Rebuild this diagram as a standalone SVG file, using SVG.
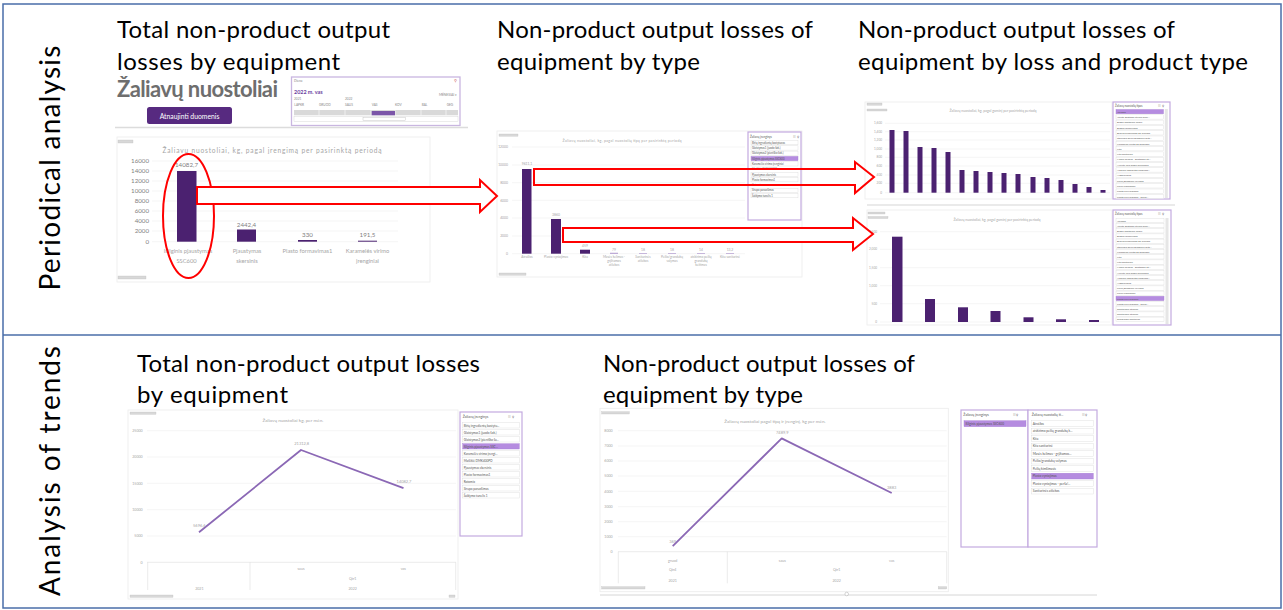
<svg xmlns="http://www.w3.org/2000/svg" width="1283" height="610" viewBox="0 0 1283 610">
<style>
.frame{fill:none;stroke:#4a6ea9;stroke-width:1.5}
.h{font-family:Lato,"Liberation Sans",sans-serif;font-size:24px;fill:#000}
.vl{font-family:Lato,"Liberation Sans",sans-serif;font-size:28px;fill:#000}
.f{font-family:Lato,"Liberation Sans",sans-serif}
.box{fill:#fff;stroke:#ececec;stroke-width:0.8}
.tag{fill:#d8d8d8;stroke:#bdbdbd;stroke-width:0.3}
.ct{font-family:Lato,"Liberation Sans",sans-serif;fill:#a6a6a6;text-anchor:middle}
.ya{font-family:Lato,"Liberation Sans",sans-serif;fill:#a6a6a6;text-anchor:end}
.xa{font-family:Lato,"Liberation Sans",sans-serif;fill:#a6a6a6;text-anchor:middle}
.grid{stroke:#eeeeee;stroke-width:0.6}
.axl{stroke:#dddddd;stroke-width:0.6;fill:none}
.bar{fill:#4b2170}
.sl{fill:#fff;stroke:#c3aadf;stroke-width:1.2}
.it{fill:#fff;stroke:#d9d9d9;stroke-width:0.4}
.sel{fill:#b58ce0;stroke:#a77fd4;stroke-width:0.4}
.itx{font-family:Lato,"Liberation Sans",sans-serif;fill:#555}
.ln{fill:none;stroke:#8b68b5;stroke-width:1.8;stroke-linejoin:round}
.arr{fill:#fff;stroke:#ff0000;stroke-width:2;stroke-linejoin:miter}
.arro{fill:none;stroke:#ff0000;stroke-width:2;stroke-linejoin:miter}
</style>

<g id="frame">
<rect class="frame" x="3" y="4" width="1278" height="604"/>
<line class="frame" x1="3" y1="335" x2="1281" y2="335"/>
</g>

<g id="label-periodical"><text class="vl" transform="translate(60,168) rotate(-90)" text-anchor="middle" textLength="245">Periodical analysis</text></g>
<g id="label-trends"><text class="vl" transform="translate(60,471) rotate(-90)" text-anchor="middle" textLength="250">Analysis of trends</text></g>

<g id="title-1"><text class="h" x="117" y="38" textLength="273">Total non-product output</text><text class="h" x="117" y="70" textLength="223">losses by equipment</text></g>
<g id="title-2"><text class="h" x="497" y="38" textLength="316">Non-product output losses of</text><text class="h" x="497" y="70" textLength="203">equipment by type</text></g>
<g id="title-3"><text class="h" x="858" y="38" textLength="317">Non-product output losses of</text><text class="h" x="858" y="70" textLength="390">equipment by loss and product type</text></g>
<g id="title-4"><text class="h" x="137" y="372" textLength="343">Total non-product output losses</text><text class="h" x="137" y="403" textLength="151">by equipment</text></g>
<g id="title-5"><text class="h" x="603" y="372" textLength="312">Non-product output losses of</text><text class="h" x="603" y="403" textLength="200">equipment by type</text></g>

<!-- Screenshot 1: dashboard -->
<g id="screen-1">
<text class="f" x="117" y="97" font-size="22" font-weight="bold" fill="#6e6e6e" textLength="161">Žaliavų nuostoliai</text>
<rect x="147" y="107" width="85" height="17" rx="2.5" fill="#572a80"/>
<text class="f" x="189.5" y="118.5" font-size="6.8" fill="#fff" text-anchor="middle">Atnaujinti duomenis</text>
<rect x="291.5" y="77" width="168.5" height="48.5" fill="#fff" stroke="#c9b6e0" stroke-width="1.3"/>
<text class="f" x="294" y="82" font-size="3.3" fill="#888">Diena</text>
<text class="f" x="457" y="82" font-size="3.5" fill="#c55" text-anchor="end">⚲</text>
<text class="f" x="294" y="93.5" font-size="5.4" font-weight="bold" fill="#6b3fa0">2022 m. vas</text>
<text class="f" x="457" y="95.5" font-size="3.3" fill="#888" text-anchor="end">MĖNESIAI ▾</text>
<text class="f" x="294" y="99.5" font-size="3.2" fill="#888">2021</text>
<text class="f" x="345" y="99.5" font-size="3.2" fill="#888">2022</text>
<g class="f" font-size="3.2" fill="#888">
<text x="294.3" y="105.5">LAPKR</text><text x="319" y="105.5">GRUOD</text><text x="345" y="105.5">SAUS</text><text x="371.7" y="105.5">VAS</text><text x="395" y="105.5">KOV</text><text x="421.7" y="105.5">BAL</text><text x="446.7" y="105.5">GEG</text>
</g>
<rect x="294" y="110" width="164" height="5.3" fill="#d9d9d9"/>
<g stroke="#fff" stroke-width="0.6"><line x1="319" y1="110" x2="319" y2="115.3"/><line x1="345" y1="110" x2="345" y2="115.3"/><line x1="371" y1="110" x2="371" y2="115.3"/><line x1="395" y1="110" x2="395" y2="115.3"/><line x1="421" y1="110" x2="421" y2="115.3"/><line x1="446" y1="110" x2="446" y2="115.3"/></g>
<rect x="371.7" y="111" width="23.3" height="4.3" fill="#7b55a8"/>
<rect x="294" y="116.7" width="164" height="4.6" fill="#fff" stroke="#d0d0d0" stroke-width="0.4"/>
<rect x="363" y="117.2" width="42.7" height="3.6" fill="#fff" stroke="#bbb" stroke-width="0.4"/>
<line x1="115" y1="127.5" x2="468" y2="127.5" stroke="#dcdcdc" stroke-width="1.5"/>
<rect class="box" x="117" y="137" width="313" height="145"/>
<rect class="tag" x="118" y="140" width="15" height="3"/>
<rect class="tag" x="118" y="276" width="28" height="3"/>
<text class="ct" x="272" y="153" font-size="6.6" textLength="219">Žaliavų nuostoliai, kg, pagal įrengimą per pasirinktą periodą</text>
<g class="grid"><line x1="152" y1="161" x2="398" y2="161"/><line x1="152" y1="171" x2="398" y2="171"/><line x1="152" y1="181" x2="398" y2="181"/><line x1="152" y1="191" x2="398" y2="191"/><line x1="152" y1="201" x2="398" y2="201"/><line x1="152" y1="211" x2="398" y2="211"/><line x1="152" y1="221" x2="398" y2="221"/><line x1="152" y1="231" x2="398" y2="231"/><line x1="152" y1="241.7" x2="398" y2="241.7"/></g>
<g class="ya" font-size="6.2" style="fill:#7f7f7f">
<text x="149" y="163">16000</text><text x="149" y="173">14000</text><text x="149" y="183">12000</text><text x="149" y="193">10000</text><text x="149" y="203">8000</text><text x="149" y="213">6000</text><text x="149" y="223">4000</text><text x="149" y="233">2000</text><text x="149" y="244">0</text>
</g>
<rect class="bar" x="177" y="171" width="19.5" height="70.7"/>
<rect class="bar" x="237" y="229.5" width="19" height="12.2"/>
<rect class="bar" x="298" y="240" width="19" height="1.7"/>
<rect class="bar" x="358" y="240.7" width="19" height="1"/>
<g class="xa" font-size="6.2" style="fill:#7f7f7f">
<text x="186.5" y="167">14082,7</text><text x="246.5" y="226.5">2442,4</text><text x="307.5" y="237">330</text><text x="367.5" y="237">191,5</text>
</g>
<g class="xa" font-size="5.8">
<text x="188" y="253">Išilginis pjaustymas</text><text x="186.5" y="263">SSC600</text>
<text x="247" y="253">Pjaustymas</text><text x="247" y="263">skersinis</text>
<text x="307.5" y="253">Plasto formavimas1</text>
<text x="367.5" y="253">Karamelės virimo</text><text x="367.5" y="263">įrenginiai</text>
</g>
</g>

<!-- Screenshot 2 -->
<g id="screen-2">
<rect class="box" x="497" y="131" width="305" height="146"/>
<rect class="tag" x="499" y="134" width="19" height="2.2"/>
<rect class="tag" x="499" y="273" width="27" height="2.2"/>
<text class="ct" x="622" y="142" font-size="3.6" textLength="119">Žaliavų nuostoliai, kg, pagal nuostolių tipą per pasirinktą periodą</text>
<g class="grid"><line x1="512" y1="147" x2="745" y2="147"/><line x1="512" y1="165" x2="745" y2="165"/><line x1="512" y1="182.7" x2="745" y2="182.7"/><line x1="512" y1="200.3" x2="745" y2="200.3"/><line x1="512" y1="218" x2="745" y2="218"/><line x1="512" y1="236" x2="745" y2="236"/><line x1="512" y1="253.7" x2="745" y2="253.7"/></g>
<g class="ya" font-size="3.4"><text x="508" y="148.3">12000</text><text x="508" y="166.2">10000</text><text x="508" y="184">8000</text><text x="508" y="201.6">6000</text><text x="508" y="219.3">4000</text><text x="508" y="237.3">2000</text><text x="508" y="255">0</text></g>
<rect class="bar" x="522" y="169" width="9.5" height="84.7"/>
<rect class="bar" x="551" y="219" width="10" height="34.7"/>
<rect class="bar" x="580" y="249.7" width="10" height="4"/>
<g fill="#a58ac8"><rect x="610" y="252.8" width="8" height="0.9"/><rect x="639" y="253.1" width="8" height="0.6"/><rect x="668" y="253.1" width="8" height="0.6"/><rect x="697" y="253.1" width="8" height="0.6"/><rect x="726" y="253.1" width="8" height="0.6"/></g>
<g class="xa" font-size="3.4"><text x="527" y="165">9611,1</text><text x="556" y="216">3860</text><text x="585" y="247">459</text><text x="614" y="251">79</text><text x="643" y="251">18</text><text x="672" y="251">18</text><text x="701" y="251">14</text><text x="730" y="251">13,2</text></g>
<g class="xa" font-size="3.2">
<text x="527" y="258">Atraižos</text>
<text x="556" y="258">Plasto vyniojimas</text>
<text x="585" y="258">Kita</text>
<text x="614" y="258">Masės kelimas -</text><text x="614" y="262">grįžtamos</text><text x="614" y="266">atliekos</text>
<text x="643" y="258">Sanitarinės</text><text x="643" y="262">atliekos</text>
<text x="672" y="258">Peilio/grandukų</text><text x="672" y="262">valymas</text>
<text x="701" y="258">atskirimo peilių</text><text x="701" y="262">grandukų</text><text x="701" y="266">keitimas</text>
<text x="730" y="258">Kita sanitarinė</text>
</g>
<rect class="sl" x="748" y="132" width="53" height="88"/>
<text class="itx" x="750" y="137.5" font-size="3">Žaliavų įrenginys</text>
<text class="itx" x="793" y="137.5" font-size="3">☷ ⚲</text>
<g>
<rect class="it" x="751" y="140.5" width="47" height="4.3"/><text class="itx" x="752" y="143.7" font-size="2.7">Birių ingredientų bastytuvas</text>
<rect class="it" x="751" y="145.8" width="47" height="4.3"/><text class="itx" x="752" y="149" font-size="2.7">Glaistymas1 (juodo šok.)</text>
<rect class="it" x="751" y="151.1" width="47" height="4.3"/><text class="itx" x="752" y="154.3" font-size="2.7">Glaistymas2 (pieniško šok.)</text>
<rect class="sel" x="751" y="156.4" width="47" height="4.3"/><text class="itx" x="752" y="159.6" font-size="2.7">Išilginis pjaustymas SSC600</text>
<rect class="it" x="751" y="161.7" width="47" height="4.3"/><text class="itx" x="752" y="164.9" font-size="2.7">Karamelės virimo įrenginiai</text>
<text class="itx" x="752" y="170.2" font-size="2.7" style="fill:#999">Maišiklė DMK400PO</text>
<rect class="it" x="751" y="172.3" width="47" height="4.3"/><text class="itx" x="752" y="175.5" font-size="2.7">Pjaustymas skersinis</text>
<rect class="it" x="751" y="177.6" width="47" height="4.3"/><text class="itx" x="752" y="180.8" font-size="2.7">Plasto formavimas1</text>
<text class="itx" x="752" y="186.1" font-size="2.7" style="fill:#999">Rotomix</text>
<rect class="it" x="751" y="188.2" width="47" height="4.3"/><text class="itx" x="752" y="191.4" font-size="2.7">Sirupo paruošimas</text>
<rect class="it" x="751" y="193.5" width="47" height="4.3"/><text class="itx" x="752" y="196.7" font-size="2.7">Šaldymo tunelis 1</text>
</g>
</g>

<!-- Screenshot 3a -->
<g id="screen-3a">
<rect class="box" x="865" y="102" width="247" height="97"/>
<rect class="tag" x="867" y="103" width="15" height="2.2"/>
<rect class="tag" x="867" y="109" width="20" height="2"/>
<text class="ct" x="993" y="112" font-size="3.5">Žaliavų nuostoliai, kg, pagal gaminį per pasirinktą periodą</text>
<g class="grid"><line x1="885" y1="123.3" x2="1110" y2="123.3"/><line x1="885" y1="131.7" x2="1110" y2="131.7"/><line x1="885" y1="140" x2="1110" y2="140"/><line x1="885" y1="149" x2="1110" y2="149"/><line x1="885" y1="157.3" x2="1110" y2="157.3"/><line x1="885" y1="166" x2="1110" y2="166"/><line x1="885" y1="175" x2="1110" y2="175"/><line x1="885" y1="183.3" x2="1110" y2="183.3"/><line x1="885" y1="192.7" x2="1110" y2="192.7"/></g>
<g class="ya" font-size="3.1"><text x="882" y="124.4">1,600</text><text x="882" y="132.8">1,400</text><text x="882" y="141.1">1,200</text><text x="882" y="150.1">1,000</text><text x="882" y="158.4">800</text><text x="882" y="167.1">600</text><text x="882" y="176.1">400</text><text x="882" y="184.4">200</text><text x="882" y="193.8">0</text></g>
<g class="bar">
<rect x="889.5" y="130" width="5" height="62.7"/><rect x="903.5" y="131" width="5" height="61.7"/><rect x="917.5" y="147" width="5" height="45.7"/><rect x="931.5" y="148" width="5" height="44.7"/><rect x="945.5" y="152" width="5" height="40.7"/><rect x="959.5" y="170" width="5" height="22.7"/><rect x="973.5" y="171" width="5" height="21.7"/><rect x="987.5" y="172" width="5" height="20.7"/><rect x="1001.5" y="173" width="5" height="19.7"/><rect x="1015.5" y="174" width="5" height="18.7"/><rect x="1030.5" y="177" width="5" height="15.7"/><rect x="1044.5" y="178" width="5" height="14.7"/><rect x="1058.5" y="180" width="5" height="12.7"/><rect x="1072.5" y="184" width="5" height="8.7"/><rect x="1086.5" y="187" width="5" height="5.7"/><rect x="1100.5" y="190" width="5" height="2.7"/>
</g>
<rect class="sl" x="1113" y="102" width="57" height="97"/>
<text class="itx" x="1115" y="106.8" font-size="2.8">Žaliavų nuostolių tipas</text>
<text class="itx" x="1158" y="106.8" font-size="2.8">☷ ⚲</text>
<rect x="1164.8" y="109" width="3" height="89" fill="#e6e6e6"/>
<g>
<rect class="sel" x="1116" y="109.5" width="47.5" height="4.3"/><text class="itx" x="1117" y="112.7" font-size="2.5">Atraižos</text>
<rect class="it" x="1116" y="114.8" width="47.5" height="4.3"/><text class="itx" x="1117" y="118" font-size="2.5">Atliktų grįžtamų atliekų prak...</text>
<rect class="it" x="1116" y="120.1" width="47.5" height="4.3"/><text class="itx" x="1117" y="123.3" font-size="2.5">Blogai sanitarinė forma</text>
<rect class="it" x="1116" y="125.4" width="47.5" height="4.3"/><text class="itx" x="1117" y="128.6" font-size="2.5">Blogas formavimas</text>
<rect class="it" x="1116" y="130.7" width="47.5" height="4.3"/><text class="itx" x="1117" y="133.9" font-size="2.5">Brokas nuosklanda po svėrimo</text>
<rect class="it" x="1116" y="136" width="47.5" height="4.3"/><text class="itx" x="1117" y="139.2" font-size="2.5">atskirimo peilių grandukų keiti...</text>
<rect class="it" x="1116" y="141.3" width="47.5" height="4.3"/><text class="itx" x="1117" y="144.5" font-size="2.5">Karamelės likutis po gamybos</text>
<rect class="it" x="1116" y="146.6" width="47.5" height="4.3"/><text class="itx" x="1117" y="149.8" font-size="2.5">Kita</text>
<rect class="it" x="1116" y="151.9" width="47.5" height="4.3"/><text class="itx" x="1117" y="155.1" font-size="2.5">Kita sanitarinė</text>
<rect class="it" x="1116" y="157.2" width="47.5" height="4.3"/><text class="itx" x="1117" y="160.4" font-size="2.5">Masės kelimas - grįžtamos atl...</text>
<rect class="it" x="1116" y="162.5" width="47.5" height="4.3"/><text class="itx" x="1117" y="165.7" font-size="2.5">Nuvirtę nuo bėgių nuolaužos</text>
<rect class="it" x="1116" y="167.8" width="47.5" height="4.3"/><text class="itx" x="1117" y="171" font-size="2.5">Nepilnai užpildytas korpusas...</text>
<rect class="it" x="1116" y="173.1" width="47.5" height="4.3"/><text class="itx" x="1117" y="176.3" font-size="2.5">Nugaravimas</text>
<rect class="it" x="1116" y="178.4" width="47.5" height="4.3"/><text class="itx" x="1117" y="181.6" font-size="2.5">Peilių/grandukų valymas</text>
<rect class="it" x="1116" y="183.7" width="47.5" height="4.3"/><text class="itx" x="1117" y="186.9" font-size="2.5">Peilių kimšimasis</text>
<rect class="it" x="1116" y="189" width="47.5" height="4.3"/><text class="itx" x="1117" y="192.2" font-size="2.5">Plasto suvyniojimas</text>
<rect class="it" x="1116" y="194.3" width="47.5" height="4.3"/><text class="itx" x="1117" y="197.5" font-size="2.5">Plasto suvyniojimas - perša...</text>
</g>
</g>

<!-- Screenshot 3b -->
<g id="screen-3b">
<line x1="867" y1="205" x2="1175" y2="205" stroke="#e3e3e3" stroke-width="1.5"/>
<rect class="box" x="867" y="210" width="245" height="115"/>
<rect class="tag" x="868" y="212" width="17" height="2"/>
<rect class="tag" x="868" y="216.5" width="20" height="2"/>
<text class="ct" x="997" y="220.5" font-size="3.5">Žaliavų nuostoliai, kg, pagal gaminį per pasirinktą periodą</text>
<g class="grid"><line x1="880" y1="231.7" x2="1110" y2="231.7"/><line x1="880" y1="249.3" x2="1110" y2="249.3"/><line x1="880" y1="267.7" x2="1110" y2="267.7"/><line x1="880" y1="285.7" x2="1110" y2="285.7"/><line x1="880" y1="303.7" x2="1110" y2="303.7"/><line x1="880" y1="322" x2="1110" y2="322"/></g>
<g class="ya" font-size="3.1"><text x="877" y="232.8">2,500</text><text x="877" y="250.4">2,000</text><text x="877" y="268.8">1,500</text><text x="877" y="286.8">1,000</text><text x="877" y="304.8">500</text><text x="877" y="323.1">0</text></g>
<g class="bar"><rect x="892" y="236.7" width="10.5" height="85.3"/><rect x="925" y="299" width="10" height="23"/><rect x="958" y="307.3" width="10" height="14.7"/><rect x="990.5" y="311" width="10" height="11"/><rect x="1023.5" y="317.3" width="10" height="4.7"/><rect x="1056" y="319.3" width="10" height="2.7"/><rect x="1089" y="320" width="10" height="2"/></g>
<rect class="sl" x="1113" y="210" width="58" height="115"/>
<text class="itx" x="1115" y="215" font-size="2.8">Žaliavų nuostolių tipas</text>
<text class="itx" x="1158" y="215" font-size="2.8">☷ ⚲</text>
<rect x="1165.5" y="218" width="3" height="106" fill="#e6e6e6"/>
<g>
<rect class="it" x="1116" y="218.3" width="48" height="4.3"/><text class="itx" x="1117" y="221.5" font-size="2.5">Atraižos</text>
<rect class="it" x="1116" y="223.5" width="48" height="4.3"/><text class="itx" x="1117" y="226.7" font-size="2.5">Atliktų grįžtamų atliekų prak...</text>
<rect class="it" x="1116" y="228.7" width="48" height="4.3"/><text class="itx" x="1117" y="231.9" font-size="2.5">Blogai sanitarinė forma</text>
<rect class="it" x="1116" y="233.9" width="48" height="4.3"/><text class="itx" x="1117" y="237.1" font-size="2.5">Blogas formavimas</text>
<rect class="it" x="1116" y="239.1" width="48" height="4.3"/><text class="itx" x="1117" y="242.3" font-size="2.5">Brokas nuosklanda po svėrimo</text>
<rect class="it" x="1116" y="244.3" width="48" height="4.3"/><text class="itx" x="1117" y="247.5" font-size="2.5">atskirimo peilių grandukų keiti...</text>
<rect class="it" x="1116" y="249.5" width="48" height="4.3"/><text class="itx" x="1117" y="252.7" font-size="2.5">Karamelės likutis po gamybos</text>
<rect class="it" x="1116" y="254.7" width="48" height="4.3"/><text class="itx" x="1117" y="257.9" font-size="2.5">Kita</text>
<rect class="it" x="1116" y="259.9" width="48" height="4.3"/><text class="itx" x="1117" y="263.1" font-size="2.5">Kita sanitarinė</text>
<rect class="it" x="1116" y="265.1" width="48" height="4.3"/><text class="itx" x="1117" y="268.3" font-size="2.5">Masės kelimas - grįžtamos atl...</text>
<rect class="it" x="1116" y="270.3" width="48" height="4.3"/><text class="itx" x="1117" y="273.5" font-size="2.5">Nuvirtę nuo bėgių nuolaužos</text>
<rect class="it" x="1116" y="275.5" width="48" height="4.3"/><text class="itx" x="1117" y="278.7" font-size="2.5">Nepilnai užpildytas korpusas...</text>
<rect class="it" x="1116" y="280.7" width="48" height="4.3"/><text class="itx" x="1117" y="283.9" font-size="2.5">Nugaravimas</text>
<rect class="it" x="1116" y="285.9" width="48" height="4.3"/><text class="itx" x="1117" y="289.1" font-size="2.5">Peilių/grandukų valymas</text>
<rect class="it" x="1116" y="291.1" width="48" height="4.3"/><text class="itx" x="1117" y="294.3" font-size="2.5">Peilių kimšimasis</text>
<rect class="sel" x="1116" y="296.3" width="48" height="4.3"/><text class="itx" x="1117" y="299.5" font-size="2.5">Plasto suvyniojimas</text>
<rect class="it" x="1116" y="301.5" width="48" height="4.3"/><text class="itx" x="1117" y="304.7" font-size="2.5">Plasto suvyniojimas - perša...</text>
<rect class="it" x="1116" y="306.7" width="48" height="4.3"/><text class="itx" x="1117" y="309.9" font-size="2.5">Sanitarinės atliekos</text>
<rect class="it" x="1116" y="311.9" width="48" height="4.3"/><text class="itx" x="1117" y="315.1" font-size="2.5">Sanitarinės atliekos</text>
<rect class="it" x="1116" y="317.1" width="48" height="4.3"/><text class="itx" x="1117" y="320.3" font-size="2.5">Susiplaudų sanitarinė</text>
</g>
</g>

<!-- Screenshot 4: trend 1 -->
<g id="screen-4">
<rect class="box" x="128" y="410" width="330" height="189"/>
<rect class="tag" x="130" y="412" width="26" height="2.3"/>
<text class="ct" x="293" y="421.5" font-size="4.6">Žaliavų nuostoliai kg, per mėn.</text>
<g class="grid"><line x1="147" y1="430.7" x2="456" y2="430.7"/><line x1="147" y1="457" x2="456" y2="457"/><line x1="147" y1="483.3" x2="456" y2="483.3"/><line x1="147" y1="509.7" x2="456" y2="509.7"/><line x1="147" y1="536" x2="456" y2="536"/></g>
<g class="ya" font-size="3.6"><text x="142.7" y="432">25000</text><text x="142.7" y="458.3">20000</text><text x="142.7" y="484.6">15000</text><text x="142.7" y="511">10000</text><text x="142.7" y="537.3">5000</text><text x="142.7" y="563.6">0</text></g>
<path class="axl" d="M147,562.3 H456 M147.7,562.3 V590 M250,562.3 V590 M455.7,562.3 V590"/>
<polyline class="ln" points="199,532.3 301,450 403.5,488.2"/>
<g class="xa" font-size="4"><text x="199.3" y="527">5696,6</text><text x="301.7" y="444.5">21312,8</text><text x="404" y="483">14082,7</text></g>
<g class="xa" font-size="3.6"><text x="301" y="570">saus</text><text x="403.3" y="570">vas</text><text x="352.7" y="580">Qtr1</text><text x="199.3" y="590">2021</text><text x="352.7" y="590">2022</text></g>
<rect class="tag" x="130" y="595" width="43" height="2.3"/>
<rect class="tag" x="449" y="595" width="6" height="2.3"/>
<rect class="sl" x="460" y="412" width="62" height="124"/>
<text class="itx" x="462.7" y="417.6" font-size="3.5">Žaliavų įrenginys</text>
<text class="itx" x="508" y="417.6" font-size="3.3">☷ ⚲</text>
<g>
<rect class="it" x="462.7" y="422.7" width="56.6" height="5.3"/><text class="itx" x="463.7" y="426.7" font-size="3.1">Birių ingredientų bastytu...</text>
<rect class="it" x="462.7" y="429.7" width="56.6" height="5.3"/><text class="itx" x="463.7" y="433.7" font-size="3.1">Glaistymas1 (juodo šok.)</text>
<rect class="it" x="462.7" y="436.7" width="56.6" height="5.3"/><text class="itx" x="463.7" y="440.7" font-size="3.1">Glaistymas2 (pieniško ša...</text>
<rect class="sel" x="462.7" y="443.7" width="56.6" height="5.3"/><text class="itx" x="463.7" y="447.7" font-size="3.1">Išilginis pjaustymas SSC...</text>
<rect class="it" x="462.7" y="450.7" width="56.6" height="5.3"/><text class="itx" x="463.7" y="454.7" font-size="3.1">Karamelės virimo įrengi...</text>
<rect class="it" x="462.7" y="457.7" width="56.6" height="5.3"/><text class="itx" x="463.7" y="461.7" font-size="3.1">Maišiklė DMK400PO</text>
<rect class="it" x="462.7" y="464.7" width="56.6" height="5.3"/><text class="itx" x="463.7" y="468.7" font-size="3.1">Pjaustymas skersinis</text>
<rect class="it" x="462.7" y="471.7" width="56.6" height="5.3"/><text class="itx" x="463.7" y="475.7" font-size="3.1">Plasto formavimas1</text>
<rect class="it" x="462.7" y="478.7" width="56.6" height="5.3"/><text class="itx" x="463.7" y="482.7" font-size="3.1">Rotomix</text>
<rect class="it" x="462.7" y="485.7" width="56.6" height="5.3"/><text class="itx" x="463.7" y="489.7" font-size="3.1">Sirupo paruošimas</text>
<rect class="it" x="462.7" y="492.7" width="56.6" height="5.3"/><text class="itx" x="463.7" y="496.7" font-size="3.1">Šaldymo tunelis 1</text>
</g>
</g>

<!-- Screenshot 5: trend 2 -->
<g id="screen-5">
<rect class="box" x="600" y="408.3" width="348.3" height="183.4"/>
<rect class="tag" x="601.7" y="411.7" width="27.6" height="2.3"/>
<text class="ct" x="775" y="423.3" font-size="4.6">Žaliavų nuostoliai pagal tipą ir įrenginį, kg per mėn.</text>
<g class="grid"><line x1="618" y1="430.7" x2="946.7" y2="430.7"/><line x1="618" y1="446" x2="946.7" y2="446"/><line x1="618" y1="461" x2="946.7" y2="461"/><line x1="618" y1="476" x2="946.7" y2="476"/><line x1="618" y1="491.3" x2="946.7" y2="491.3"/><line x1="618" y1="506.7" x2="946.7" y2="506.7"/><line x1="618" y1="521.7" x2="946.7" y2="521.7"/><line x1="618" y1="536.7" x2="946.7" y2="536.7"/></g>
<g class="ya" font-size="3.6"><text x="612.7" y="432">8000</text><text x="612.7" y="447.3">7000</text><text x="612.7" y="462.3">6000</text><text x="612.7" y="477.3">5000</text><text x="612.7" y="492.6">4000</text><text x="612.7" y="508">3000</text><text x="612.7" y="523">2000</text><text x="612.7" y="538">1000</text><text x="612.7" y="553">0</text></g>
<path class="axl" d="M618,551.7 H946.7 M618.3,551.7 V583.3 M727.3,551.7 V583.3 M946.7,551.7 V583.3"/>
<polyline class="ln" points="672.7,546.1 781.7,438.4 891.7,493"/>
<g class="xa" font-size="4"><text x="672.7" y="543">369</text><text x="782.3" y="434.3">7489,9</text><text x="891.7" y="489">3883</text></g>
<g class="xa" font-size="3.6"><text x="672.7" y="561.5">gruod</text><text x="782.3" y="561.5">saus</text><text x="891.7" y="561.5">vas</text><text x="672.7" y="571.3">Qtr4</text><text x="836.7" y="571.3">Qtr1</text><text x="672.7" y="582.3">2021</text><text x="836.7" y="582.3">2022</text></g>
<rect class="tag" x="601.7" y="586.7" width="43.3" height="2.3"/>
<rect class="tag" x="938.3" y="586.7" width="8.4" height="2.3"/>
<line x1="600" y1="595" x2="1097" y2="595" stroke="#d6d6d6" stroke-width="1"/>
<circle cx="846.7" cy="594" r="1.8" fill="#fff" stroke="#aaa" stroke-width="0.5"/>
<rect class="sl" x="961" y="410" width="67" height="137"/>
<text class="itx" x="963.3" y="416" font-size="3.5">Žaliavų įrenginys</text>
<text class="itx" x="1012.5" y="416" font-size="3.3">☷ ⚲</text>
<rect class="sel" x="964" y="420.7" width="62" height="6"/><text class="itx" x="965.5" y="425" font-size="3.2">Išilginis pjaustymas SSC600</text>
<rect class="sl" x="1028" y="410" width="69" height="137"/>
<text class="itx" x="1031.7" y="416" font-size="3.5">Žaliavų nuostolių ti...</text>
<text class="itx" x="1081.5" y="416" font-size="3.3">☷ ⚲</text>
<g>
<rect class="it" x="1031.7" y="420.7" width="61.6" height="5.8"/><text class="itx" x="1032.7" y="424.9" font-size="3.2">Atraižos</text>
<rect class="it" x="1031.7" y="428.2" width="61.6" height="5.8"/><text class="itx" x="1032.7" y="432.4" font-size="3.2">atskirimo peilių grandukų k...</text>
<rect class="it" x="1031.7" y="435.7" width="61.6" height="5.8"/><text class="itx" x="1032.7" y="439.9" font-size="3.2">Kita</text>
<rect class="it" x="1031.7" y="443.2" width="61.6" height="5.8"/><text class="itx" x="1032.7" y="447.4" font-size="3.2">Kita sanitarinė</text>
<rect class="it" x="1031.7" y="450.7" width="61.6" height="5.8"/><text class="itx" x="1032.7" y="454.9" font-size="3.2">Masės kelimas - grįžtamos...</text>
<rect class="it" x="1031.7" y="458.2" width="61.6" height="5.8"/><text class="itx" x="1032.7" y="462.4" font-size="3.2">Peilio/grandukų valymas</text>
<rect class="it" x="1031.7" y="465.7" width="61.6" height="5.8"/><text class="itx" x="1032.7" y="469.9" font-size="3.2">Peilių kimšimasis</text>
<rect class="sel" x="1031.7" y="473.2" width="61.6" height="5.8"/><text class="itx" x="1032.7" y="477.4" font-size="3.2">Plasto vyniojimas</text>
<rect class="it" x="1031.7" y="480.7" width="61.6" height="5.8"/><text class="itx" x="1032.7" y="484.9" font-size="3.2">Plasto vyniojimas - perša!...</text>
<rect class="it" x="1031.7" y="488.2" width="61.6" height="5.8"/><text class="itx" x="1032.7" y="492.4" font-size="3.2">Sanitarinės atliekos</text>
</g>
</g>

<g id="highlight">
<ellipse cx="188.5" cy="216" rx="25.5" ry="62" fill="none" stroke="#ff0000" stroke-width="2"/>
</g>

<g id="connectors">
<polygon class="arr" points="197,187 480,187 480,180 497,196 480,212 480,204 197,204"/>
<polygon class="arro" points="534,169 855,169 855,162 874,177 855,193 855,185 534,185"/>
<polygon class="arr" points="563,228 853,228 853,218 873,234 853,250 853,242 563,242"/>
</g>
</svg>
